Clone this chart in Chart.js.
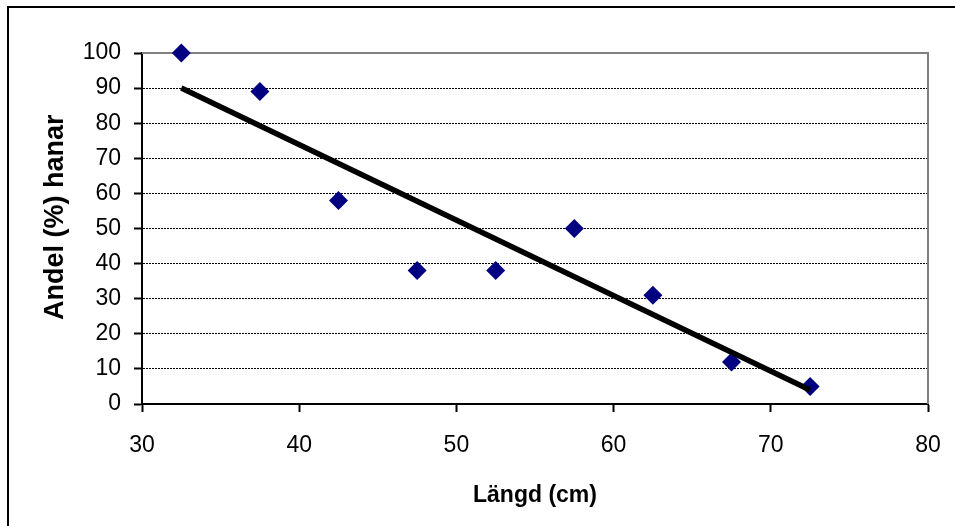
<!DOCTYPE html>
<html>
<head>
<meta charset="utf-8">
<script src="https://cdn.jsdelivr.net/npm/chart.js@4"></script>
<style>
  html, body { margin: 0; padding: 0; background: #fff; }
  canvas { display: block; }
</style>
</head>
<body>
<canvas id="chart" width="955" height="526"></canvas>
<script>
// data
const lengthCm   = [32.5, 37.5, 42.5, 47.5, 52.5, 57.5, 62.5, 67.5, 72.5];
const malePct    = [100, 89, 58, 38, 38, 50, 31, 12, 5];
const trendX     = [32.5, 72.5];
const trendY     = [90, 4];
const xTickVals  = [30, 40, 50, 60, 70, 80];
const yTickVals  = [0, 10, 20, 30, 40, 50, 60, 70, 80, 90, 100];

const FONT = '"Liberation Sans", Arial, sans-serif';

// plot frame (gray top/right) + outer chart border
const framePlugin = {
  id: 'frame',
  beforeDatasetsDraw(chart) {
    const { ctx, chartArea: a } = chart;
    ctx.save();
    ctx.strokeStyle = '#808080';
    ctx.lineWidth = 2;
    ctx.beginPath();
    ctx.moveTo(a.left, a.top);
    ctx.lineTo(a.right, a.top);
    ctx.lineTo(a.right, a.bottom);
    ctx.stroke();
    ctx.restore();
  },
  afterDraw(chart) {
    const { ctx } = chart;
    ctx.save();
    ctx.strokeStyle = '#000';
    ctx.lineWidth = 2;
    ctx.beginPath();
    ctx.moveTo(8, chart.height + 5);
    ctx.lineTo(8, 7);
    ctx.lineTo(chart.width + 5, 7);
    ctx.stroke();
    ctx.restore();
  }
};

const useTicks = vals => axis => { axis.ticks = vals.map(v => ({ value: v })); };

new Chart(document.getElementById('chart'), {
  type: 'scatter',
  data: {
    datasets: [
      {
        label: 'Trend',
        type: 'line',
        data: trendX.map((x, i) => ({ x, y: trendY[i] })),
        borderColor: '#000',
        borderWidth: 5.5,
        pointRadius: 0,
        fill: false,
        order: 0
      },
      {
        label: 'Andel hanar',
        data: lengthCm.map((x, i) => ({ x, y: malePct[i] })),
        pointStyle: 'rectRot',
        pointRadius: 9.5,
        pointHoverRadius: 9.5,
        backgroundColor: '#000080',
        borderColor: '#000080',
        borderWidth: 0,
        clip: false,
        order: 1
      }
    ]
  },
  options: {
    responsive: false,
    animation: false,
    devicePixelRatio: 1,
    layout: { padding: { left: 0, top: 53, right: 27, bottom: 0 } },
    plugins: { legend: { display: false }, tooltip: { enabled: false } },
    scales: {
      x: {
        type: 'linear',
        min: 30,
        max: 80,
        afterBuildTicks: useTicks(xTickVals),
        afterFit: s => { s.height = 122; s.paddingLeft = 0; s.paddingRight = 0; },
        border: { color: '#000', width: 2 },
        grid: { drawOnChartArea: false, drawTicks: true, tickLength: 8, tickColor: '#000', tickWidth: 2 },
        ticks: { color: '#000', padding: 20, font: { family: FONT, size: 23 } },
        title: {
          display: true,
          text: 'Längd (cm)',
          color: '#000',
          font: { family: FONT, size: 23, weight: 'bold' },
          padding: { top: 0, bottom: 17 }
        }
      },
      y: {
        type: 'linear',
        min: 0,
        max: 100,
        afterBuildTicks: useTicks(yTickVals),
        afterFit: s => { s.width = 142; },
        border: { color: '#000', width: 2, dash: [2, 1] },
        grid: {
          color: c => (c.tick && c.tick.value === 100) ? 'rgba(0,0,0,0)' : '#000',
          lineWidth: 1,
          tickLength: 8,
          tickColor: '#000',
          tickWidth: 2,
          tickBorderDash: []
        },
        ticks: { color: '#000', padding: 13, font: { family: FONT, size: 23 } },
        title: {
          display: true,
          text: '   Andel (%) hanar',
          color: '#000',
          font: { family: FONT, size: 27, weight: 'bold' },
          padding: { top: 39, bottom: 0 }
        }
      }
    }
  },
  plugins: [framePlugin]
});
</script>
</body>
</html>
